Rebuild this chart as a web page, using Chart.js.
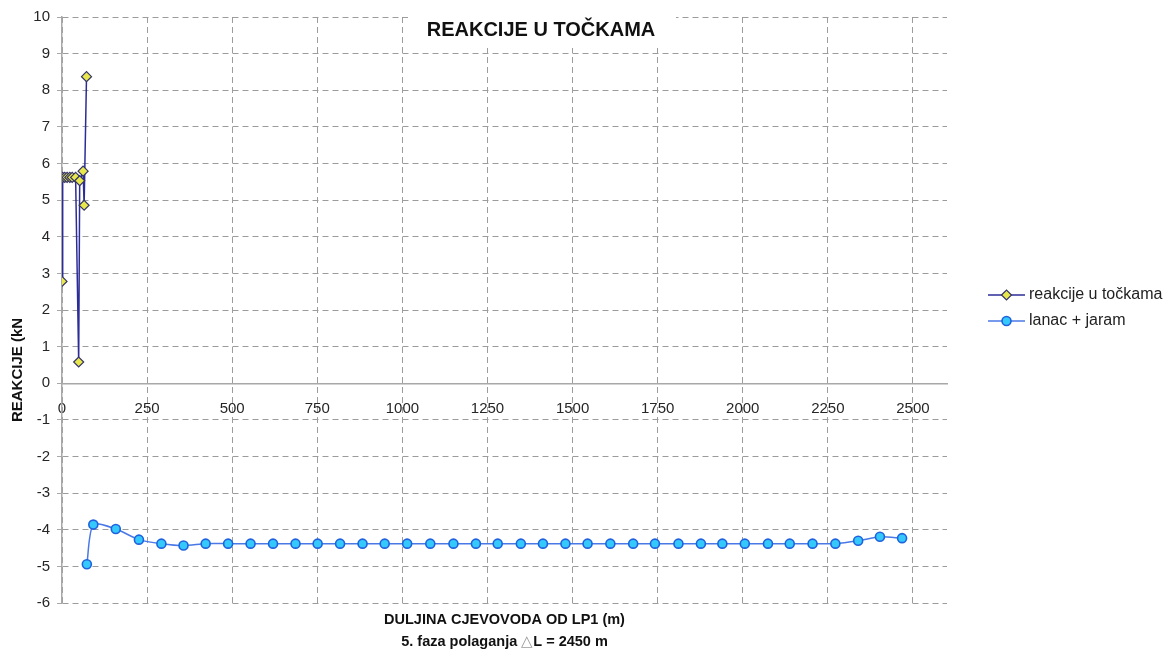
<!DOCTYPE html>
<html>
<head>
<meta charset="utf-8">
<title>REAKCIJE U TOČKAMA</title>
<script src="https://cdn.jsdelivr.net/npm/chart.js@4/dist/chart.umd.min.js"></script>
<style>
  html, body { margin: 0; padding: 0; background: #ffffff; }
  #wrap { width: 1173px; height: 655px; position: relative; }
</style>
</head>
<body>
<div id="wrap"><canvas id="c"></canvas></div>
<script>
// Distance along the pipeline (m) and reaction (kN) for each support point
const reakcijeX = [0, 2, 8, 15, 23, 30, 40, 49, 52, 62, 65, 72];
const reakcijeY = [2.78, 5.62, 5.62, 5.62, 5.62, 5.62, 5.62, 0.58, 5.53, 5.79, 4.86, 8.37];

const lanacX = [73, 92, 158, 226, 292, 357, 422, 488, 554, 620, 686, 751, 817, 883, 948,
                1014, 1082, 1150, 1216, 1280, 1348, 1413, 1479, 1544, 1611, 1678, 1742, 1811,
                1877, 1940, 2006, 2074, 2138, 2205, 2272, 2339, 2403, 2468];
const lanacY = [-4.94, -3.86, -3.98, -4.27, -4.38, -4.43, -4.38, -4.38, -4.38, -4.38, -4.38, -4.38,
                -4.38, -4.38, -4.38, -4.38, -4.38, -4.38, -4.38, -4.38, -4.38, -4.38, -4.38, -4.38,
                -4.38, -4.38, -4.38, -4.38, -4.38, -4.38, -4.38, -4.38, -4.38, -4.38, -4.38, -4.30,
                -4.19, -4.23];

const seriesNames = ['reakcije u točkama', 'lanac + jaram'];
const xTickValues = [0, 250, 500, 750, 1000, 1250, 1500, 1750, 2000, 2250, 2500];
const yTickValues = [-6, -5, -4, -3, -2, -1, 0, 1, 2, 3, 4, 5, 6, 7, 8, 9, 10];

const chartTitle = 'REAKCIJE U TOČKAMA';
const yTitle = 'REAKCIJE (kN';
const xTitle = 'DULJINA CJEVOVODA OD LP1 (m)';
const xSubtitleParts = ['5. faza polaganja ', '\u25B3', 'L = 2450 m'];

const FONT = '"Liberation Sans", Arial, Helvetica, sans-serif';

const toPoints = (xs, ys) => xs.map((x, i) => ({ x: x, y: ys[i] }));

// Titles, axis captions and the legend, drawn on top of the plot
const annotations = {
  id: 'annotations',
  afterDraw(chart) {
    const ctx = chart.ctx;
    const area = chart.chartArea;
    ctx.save();

    // chart title on a white box inside the plot
    ctx.fillStyle = '#ffffff';
    ctx.fillRect(408, 11, 268, 37);
    ctx.fillStyle = '#111111';
    ctx.font = 'bold 20px ' + FONT;
    ctx.textAlign = 'center';
    ctx.textBaseline = 'middle';
    ctx.fillText(chartTitle, 541, 30);

    // x axis caption
    const cx = (area.left + area.right) / 2;
    ctx.font = 'bold 14.5px ' + FONT;
    ctx.fillText(xTitle, cx, 620);

    // subtitle with a light delta sign
    const fontsSub = ['bold 14.5px ' + FONT, '15px ' + FONT, 'bold 14.5px ' + FONT];
    const colorsSub = ['#111111', '#9a9a9a', '#111111'];
    const widths = xSubtitleParts.map((t, i) => { ctx.font = fontsSub[i]; return ctx.measureText(t).width; });
    let sx = cx - widths.reduce((a, b) => a + b, 0) / 2;
    ctx.textAlign = 'left';
    xSubtitleParts.forEach((t, i) => {
      ctx.font = fontsSub[i];
      ctx.fillStyle = colorsSub[i];
      ctx.fillText(t, sx, 642);
      sx += widths[i];
    });

    // y axis caption
    ctx.save();
    ctx.translate(18, 370);
    ctx.rotate(-Math.PI / 2);
    ctx.textAlign = 'center';
    ctx.fillStyle = '#111111';
    ctx.font = 'bold 15px ' + FONT;
    ctx.fillText(yTitle, 0, 0);
    ctx.restore();

    // legend
    const rows = [295, 321];
    chart.data.datasets.forEach((ds, i) => {
      const y = rows[i];
      ctx.strokeStyle = ds.borderColor;
      ctx.lineWidth = 1.5;
      ctx.beginPath();
      ctx.moveTo(988, y);
      ctx.lineTo(1025, y);
      ctx.stroke();
      ctx.fillStyle = ds.pointBackgroundColor;
      ctx.strokeStyle = ds.pointBorderColor;
      ctx.lineWidth = ds.pointBorderWidth;
      Chart.helpers.drawPoint(ctx, {
        pointStyle: ds.pointStyle, radius: ds.pointRadius, rotation: 0, borderWidth: ds.pointBorderWidth
      }, 1006.5, y);
      ctx.fillStyle = '#222222';
      ctx.font = '16px ' + FONT;
      ctx.textAlign = 'left';
      ctx.textBaseline = 'middle';
      ctx.fillText(ds.label, 1029, y);
    });

    ctx.restore();
  }
};

new Chart(document.getElementById('c'), {
  type: 'scatter',
  data: {
    datasets: [
      {
        label: seriesNames[0],
        data: toPoints(reakcijeX, reakcijeY),
        showLine: true,
        tension: 0,
        borderColor: '#2c2c98',
        borderWidth: 1.5,
        pointStyle: 'rectRot',
        pointRadius: 5,
        pointHoverRadius: 5,
        pointBackgroundColor: '#e8e84c',
        pointBorderColor: '#34346a',
        pointBorderWidth: 1.2
      },
      {
        label: seriesNames[1],
        data: toPoints(lanacX, lanacY),
        showLine: true,
        tension: 0.25,
        borderColor: '#4a78e6',
        borderWidth: 1.5,
        pointStyle: 'circle',
        pointRadius: 4.5,
        pointHoverRadius: 4.5,
        pointBackgroundColor: '#35c8fb',
        pointBorderColor: '#1f62de',
        pointBorderWidth: 1.6
      }
    ]
  },
  options: {
    responsive: true,
    maintainAspectRatio: false,
    animation: false,
    events: [],
    layout: { padding: { left: 0, top: 17, right: 226, bottom: 52 } },
    plugins: {
      legend: { display: false },
      title: { display: false },
      tooltip: { enabled: false }
    },
    scales: {
      x: {
        type: 'linear',
        position: { y: 0 },
        min: 0,
        max: 2600,
        afterBuildTicks: (s) => { s.ticks = xTickValues.map(v => ({ value: v })); },
        ticks: {
          color: '#262626',
          font: { family: FONT, size: 15 },
          padding: 17,
          maxRotation: 0,
          autoSkip: false,
          callback: (v) => String(v)
        },
        grid: { color: '#9c9c9c', lineWidth: 1, drawTicks: false },
        border: { display: true, color: '#a8a8a8', width: 1.5, dash: [6, 4] }
      },
      y: {
        type: 'linear',
        position: 'left',
        min: -6,
        max: 10,
        afterBuildTicks: (s) => { s.ticks = yTickValues.map(v => ({ value: v })); },
        afterFit: (s) => { s.width = 62; },
        ticks: {
          color: '#262626',
          font: { family: FONT, size: 15 },
          padding: 7,
          autoSkip: false,
          callback: (v) => String(v)
        },
        grid: { color: '#9c9c9c', lineWidth: 1, drawTicks: true, tickLength: 5, tickColor: '#a8a8a8' },
        border: { display: true, color: '#a8a8a8', width: 1.5, dash: [6, 4] }
      }
    }
  },
  plugins: [annotations]
});
</script>
</body>
</html>
